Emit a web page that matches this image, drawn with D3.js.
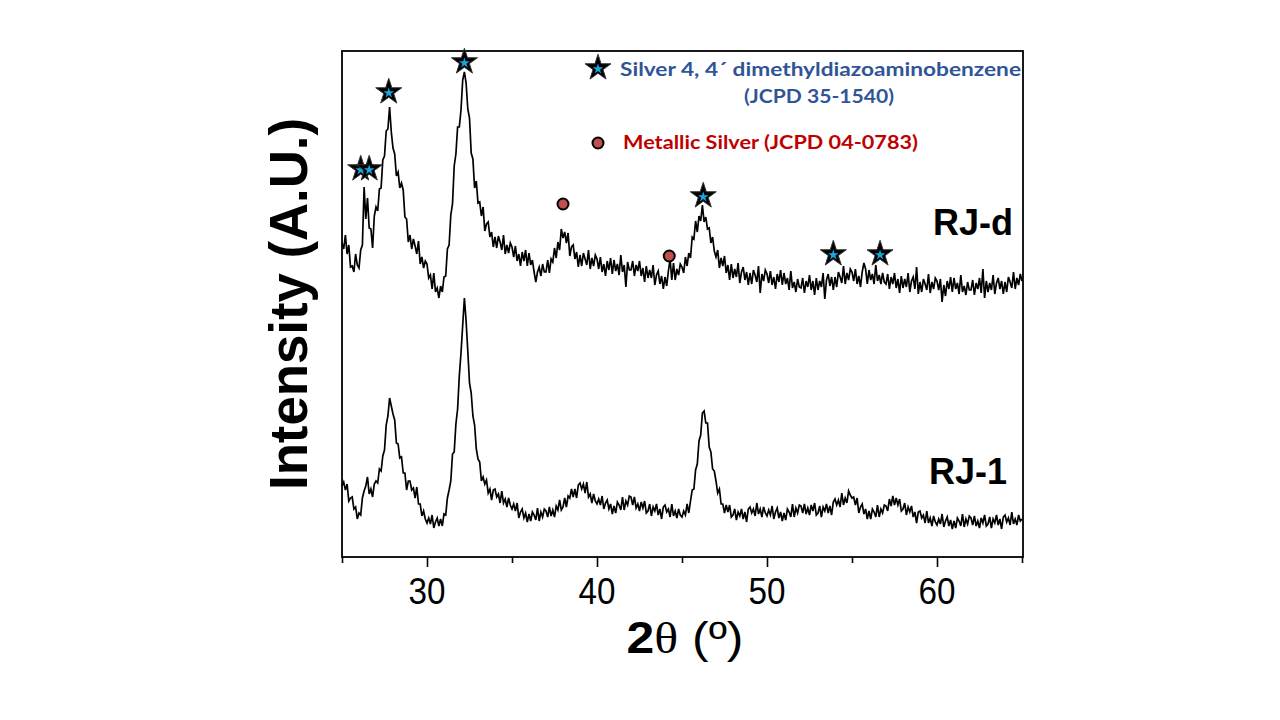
<!DOCTYPE html>
<html>
<head>
<meta charset="utf-8">
<script src="https://cdn.jsdelivr.net/npm/d3@7"></script>
<style>
    body { margin: 0; background: #fff; }
</style>
</head>
<body>
<script>
// scan grid: 25 to 65 degrees, one reading every 0.1 degree
var angleStart = 25, angleStep = 0.1;

// RJ-d pattern (offset upward) (one row = one degree)
var rjD = [
    314, 308, 322, 303, 312, 290, 291, 285, 303, 292,
    289, 307, 312, 370, 338, 359, 329, 328, 309, 341,
    350, 346, 368, 369, 397, 401, 426, 428, 450, 425,
    409, 403, 381, 385, 369, 374, 367, 340, 338, 315,
    322, 308, 318, 311, 303, 316, 293, 300, 289, 296,
    293, 279, 282, 268, 284, 265, 269, 259, 271, 265,
    280, 281, 308, 312, 342, 353, 391, 403, 430, 430,
    447, 477, 485, 474, 448, 439, 404, 398, 369, 376,
    354, 355, 341, 350, 326, 333, 335, 320, 325, 310,
    320, 309, 321, 315, 307, 322, 303, 312, 304, 314,
    310, 300, 311, 296, 303, 291, 305, 296, 307, 291,
    304, 292, 297, 285, 275, 285, 290, 281, 293, 285,
    285, 297, 284, 298, 295, 309, 299, 315, 307, 328,
    319, 325, 314, 324, 301, 310, 312, 298, 305, 290,
    302, 291, 304, 298, 292, 307, 288, 299, 291, 302,
    298, 288, 300, 285, 293, 281, 296, 287, 299, 283,
    297, 286, 293, 282, 302, 285, 292, 270, 295, 287,
    287, 296, 281, 292, 286, 296, 281, 289, 275, 291,
    279, 287, 279, 292, 272, 282, 286, 273, 281, 268,
    280, 271, 286, 298, 277, 294, 277, 288, 282, 293,
    290, 284, 300, 291, 304, 299, 320, 318, 336, 325,
    341, 336, 352, 335, 340, 328, 329, 314, 320, 306,
    300, 307, 289, 299, 291, 301, 284, 292, 277, 293,
    279, 288, 280, 294, 274, 285, 290, 277, 285, 272,
    284, 273, 287, 282, 275, 291, 264, 283, 276, 287,
    283, 274, 286, 272, 280, 268, 283, 275, 287, 272,
    284, 273, 279, 267, 286, 269, 275, 265, 278, 270,
    269, 279, 264, 276, 270, 282, 267, 276, 262, 279,
    267, 276, 270, 284, 258, 277, 283, 271, 280, 267,
    280, 270, 285, 280, 274, 291, 273, 284, 277, 288,
    285, 276, 288, 273, 281, 270, 285, 294, 288, 273,
    287, 277, 283, 273, 292, 276, 282, 273, 284, 275,
    273, 283, 268, 280, 273, 284, 269, 278, 264, 281,
    269, 278, 270, 284, 265, 276, 280, 268, 290, 263,
    275, 265, 278, 273, 267, 283, 264, 275, 268, 279,
    276, 267, 278, 255, 272, 261, 276, 268, 280, 265,
    279, 268, 274, 263, 282, 265, 271, 262, 275, 267,
    267, 277, 262, 274, 268, 279, 264, 288, 259, 276,
    265, 274, 267, 282, 263, 274, 279, 268, 276, 263,
    275, 265, 280, 275, 269, 285, 268, 279, 272, 283,
    276
];

// RJ-1 pattern (bottom trace)
var rj1 = [
    71, 75, 67, 73, 56, 59, 60, 48, 50, 38,
    44, 42, 59, 66, 71, 80, 63, 68, 60, 73,
    76, 74, 88, 86, 101, 107, 132, 141, 159, 151,
    143, 137, 114, 113, 99, 100, 84, 84, 67, 76,
    76, 67, 69, 59, 70, 53, 53, 41, 46, 38,
    34, 39, 33, 42, 29, 35, 39, 31, 38, 31,
    43, 42, 59, 67, 76, 103, 105, 133, 148, 181,
    204, 232, 259, 236, 206, 174, 164, 141, 132, 108,
    98, 95, 76, 80, 73, 77, 64, 68, 57, 67,
    68, 60, 63, 54, 66, 54, 58, 50, 59, 52,
    48, 53, 46, 54, 39, 45, 48, 39, 44, 35,
    43, 36, 45, 42, 37, 49, 36, 45, 40, 48,
    46, 40, 50, 41, 47, 40, 51, 47, 57, 47,
    50, 59, 50, 61, 59, 68, 60, 68, 59, 72,
    74, 68, 73, 64, 75, 60, 63, 54, 63, 56,
    53, 58, 52, 61, 48, 54, 57, 48, 53, 43,
    51, 44, 55, 52, 47, 60, 47, 56, 52, 61,
    60, 52, 60, 49, 53, 46, 55, 49, 56, 44,
    46, 53, 41, 50, 46, 53, 42, 48, 38, 50,
    52, 45, 48, 40, 53, 41, 46, 39, 48, 42,
    40, 46, 42, 53, 44, 56, 67, 68, 87, 93,
    116, 122, 144, 146, 134, 134, 110, 105, 88, 86,
    76, 64, 68, 53, 53, 44, 52, 45, 52, 40,
    42, 48, 37, 45, 41, 48, 38, 45, 35, 48,
    50, 44, 48, 41, 54, 43, 48, 40, 50, 44,
    41, 47, 42, 51, 38, 45, 49, 39, 45, 36,
    44, 37, 48, 45, 40, 53, 40, 49, 44, 52,
    51, 44, 53, 43, 49, 42, 52, 46, 54, 42,
    44, 51, 40, 50, 46, 53, 44, 51, 42, 55,
    58, 52, 57, 50, 64, 52, 59, 54, 66, 62,
    59, 60, 52, 59, 44, 50, 53, 43, 48, 38,
    46, 38, 48, 45, 40, 52, 40, 48, 44, 52,
    51, 46, 58, 51, 61, 52, 59, 52, 58, 46,
    48, 54, 42, 50, 45, 51, 40, 45, 34, 45,
    46, 39, 42, 34, 46, 34, 39, 31, 41, 35,
    32, 38, 33, 43, 30, 36, 40, 31, 37, 28,
    36, 29, 39, 36, 31, 43, 30, 38, 33, 41,
    39, 32, 41, 31, 36, 29, 39, 34, 42, 31,
    33, 40, 29, 38, 34, 42, 32, 38, 28, 40,
    42, 35, 39, 32, 45, 33, 38, 32, 42, 36,
    38
];

var xTicks = [30, 40, 50, 60];
var xMinorTicks = [25, 35, 45, 55, 65];

// phase markers (angle, height of the marker)
var starAngles = [26.1, 26.6, 27.75, 32.2, 46.25, 53.9, 56.65];
var starHeights = [388, 388, 465, 495, 361, 303, 303];
var dotAngles = [38.0, 44.25];
var dotHeights = [353, 301];

var legendLabels = ["Silver 4, 4\u00b4 dimethyldiazoaminobenzene", "(JCPD  35-1540)", "Metallic Silver (JCPD 04-0783)"];
var sampleNames = ["RJ-d", "RJ-1"];

var W = 1280, H = 720;
var plot = {left: 342, right: 1023, top: 51, bottom: 557};
var sans = "'Liberation Sans', Arial, sans-serif";
var legendFont = "Lato, 'Open Sans', sans-serif";

var xScale = d3.scaleLinear()
    .domain([25, 65])
    .range([plot.left, plot.right - 1]);

var yScale = d3.scaleLinear()
    .domain([0, 506])
    .range([plot.bottom, plot.top]);

var svg = d3.select("body").append("svg")
    .attr("width", W)
    .attr("height", H)
    .style("background", "#fff");

var line = d3.line()
    .x(function (d, i) {
        return xScale(angleStart + i * angleStep);
    })
    .y(function (d) {
        return yScale(d);
    });

var traces = svg.append("g").attr("class", "traces");
[rjD, rj1].forEach(function (series) {
    traces.append("path")
        .datum(series)
        .attr("d", line)
        .attr("fill", "none")
        .attr("stroke", "#000")
        .attr("stroke-width", 1.7)
        .attr("stroke-linejoin", "miter");
});

// frame
svg.append("rect")
    .attr("x", plot.left)
    .attr("y", plot.top)
    .attr("width", plot.right - plot.left)
    .attr("height", plot.bottom - plot.top)
    .attr("fill", "none")
    .attr("stroke", "#000")
    .attr("stroke-width", 1.8);

// bottom axis: major + minor ticks
var majorAxis = d3.axisBottom(xScale).tickValues(xTicks).tickSize(10).tickFormat("");
var minorAxis = d3.axisBottom(xScale).tickValues(xMinorTicks).tickSize(6).tickFormat("");

[majorAxis, minorAxis].forEach(function (ax) {
    var g = svg.append("g")
        .attr("transform", "translate(0," + plot.bottom + ")")
        .call(ax);
    g.select(".domain").remove();
    g.selectAll(".tick line").attr("stroke", "#000").attr("stroke-width", 1.6);
});

svg.append("g").selectAll("text")
    .data(xTicks)
    .enter().append("text")
    .attr("x", function (d) { return xScale(d); })
    .attr("y", 604)
    .attr("text-anchor", "middle")
    .attr("font-family", sans)
    .attr("font-size", 36)
    .attr("textLength", 37)
    .attr("lengthAdjust", "spacingAndGlyphs")
    .attr("fill", "#000")
    .text(function (d) { return d; });

// x title
var xt = svg.append("text")
    .attr("x", 685)
    .attr("y", 653)
    .attr("text-anchor", "middle")
    .attr("font-family", sans)
    .attr("font-size", 45)
    .attr("textLength", 117)
    .attr("lengthAdjust", "spacingAndGlyphs")
    .attr("fill", "#000");
xt.append("tspan").attr("font-weight", "bold").text("2");
xt.append("tspan").attr("font-family", "'Liberation Serif', 'DejaVu Serif', serif").text("\u03b8");
xt.append("tspan").text(" (\u00ba)");

// y title
svg.append("text")
    .attr("transform", "translate(307,304) rotate(-90)")
    .attr("text-anchor", "middle")
    .attr("font-family", sans)
    .attr("font-weight", "bold")
    .attr("font-size", 53)
    .attr("textLength", 372)
    .attr("lengthAdjust", "spacingAndGlyphs")
    .attr("fill", "#000")
    .text("Intensity (A.U.)");

// sample names
svg.append("g").selectAll("text")
    .data(sampleNames)
    .enter().append("text")
    .attr("x", function (d, i) { return i === 0 ? 933 : 929; })
    .attr("y", function (d, i) { return i === 0 ? 235 : 484; })
    .attr("font-family", sans)
    .attr("font-weight", "bold")
    .attr("font-size", 36)
    .attr("fill", "#000")
    .text(function (d) { return d; });

// markers
var bigStar = d3.symbol().type(d3.symbolStar).size(210);
var smallStar = d3.symbol().type(d3.symbolStar).size(34);

function drawStar(g, x, y) {
    g.append("path")
        .attr("transform", "translate(" + x + "," + y + ")")
        .attr("d", bigStar)
        .attr("fill", "#000")
        .attr("stroke", "#333")
        .attr("stroke-width", 1);
    g.append("path")
        .attr("transform", "translate(" + x + "," + (y + 1) + ")")
        .attr("d", smallStar)
        .attr("fill", "#1aa7e0");
}

var markers = svg.append("g").attr("class", "markers");
starAngles.forEach(function (a, i) {
    drawStar(markers, xScale(a), yScale(starHeights[i]));
});

markers.selectAll("circle")
    .data(dotAngles)
    .enter().append("circle")
    .attr("cx", function (d) { return xScale(d); })
    .attr("cy", function (d, i) { return yScale(dotHeights[i]); })
    .attr("r", 5.5)
    .attr("fill", "#c0504d")
    .attr("stroke", "#000")
    .attr("stroke-width", 2);

// legend
var legend = svg.append("g").attr("class", "legend");
drawStar(legend, 598, 68);
legend.append("circle")
    .attr("cx", 598)
    .attr("cy", 143)
    .attr("r", 5.5)
    .attr("fill", "#c0504d")
    .attr("stroke", "#000")
    .attr("stroke-width", 2);

legend.append("text")
    .attr("x", 620).attr("y", 76)
    .attr("font-family", legendFont).attr("font-weight", "bold").attr("font-size", 18)
    .attr("textLength", 401).attr("lengthAdjust", "spacingAndGlyphs")
    .attr("fill", "#2f5597")
    .text(legendLabels[0]);
legend.append("text")
    .attr("x", 744).attr("y", 103)
    .attr("font-family", legendFont).attr("font-weight", "bold").attr("font-size", 18)
    .attr("textLength", 150).attr("lengthAdjust", "spacingAndGlyphs")
    .attr("fill", "#2f5597")
    .text(legendLabels[1]);
legend.append("text")
    .attr("x", 623).attr("y", 149)
    .attr("font-family", legendFont).attr("font-weight", "bold").attr("font-size", 18)
    .attr("textLength", 295).attr("lengthAdjust", "spacingAndGlyphs")
    .attr("fill", "#c00000")
    .text(legendLabels[2]);
</script>
</body>
</html>
